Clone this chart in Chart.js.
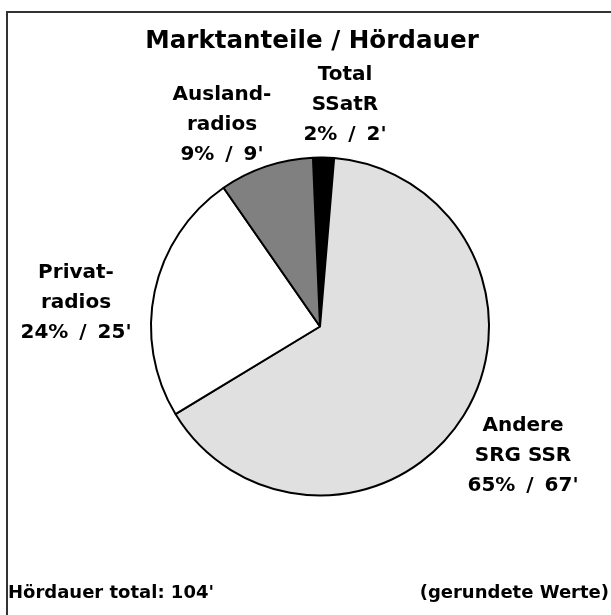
<!DOCTYPE html>
<html>
<head>
<meta charset="utf-8">
<script src="https://cdn.jsdelivr.net/npm/chart.js@4/dist/chart.umd.min.js"></script>
<style>
  html, body { margin: 0; padding: 0; background: #fff; }
  #wrap { position: relative; width: 611px; height: 615px; }
</style>
</head>
<body>
<div id="wrap"><canvas id="c" width="611" height="615"></canvas></div>
<script>
// Data (clockwise from top)
const categories = ['Total SSatR', 'Andere SRG SSR', 'Privatradios', 'Auslandradios'];
const shares = [2, 65, 24, 9];          // Marktanteile in %
const minutes = [2, 67, 25, 9];         // Hördauer in Minuten
const labelLines = [
  ['Total', 'SSatR'],
  ['Andere', 'SRG SSR'],
  ['Privat-', 'radios'],
  ['Ausland-', 'radios']
];
const titleText = 'Marktanteile / Hördauer';
const footLeft = "Hördauer total: 104'";
const footRight = '(gerundete Werte)';

const colors = ['#000000', '#e0e0e0', '#ffffff', '#808080'];
const FONT = '"DejaVu Sans", sans-serif';

// label centre positions (text placement, px)
const labelPos = [
  {x: 345, bl: 80},
  {x: 523, bl: 431},
  {x: 76,  bl: 278},
  {x: 222, bl: 100}
];

const decor = {
  id: 'decor',
  beforeDraw(chart) {
    const ctx = chart.ctx;
    ctx.save();
    ctx.fillStyle = '#fff';
    ctx.fillRect(0, 0, chart.width, chart.height);
    ctx.strokeStyle = '#333';
    ctx.lineWidth = 2;
    ctx.beginPath();
    ctx.moveTo(7, chart.height + 5);
    ctx.lineTo(7, 12);
    ctx.lineTo(chart.width + 5, 12);
    ctx.stroke();
    ctx.restore();
  },
  afterDraw(chart) {
    const ctx = chart.ctx;
    ctx.save();
    ctx.fillStyle = '#000';
    ctx.textBaseline = 'alphabetic';
    ctx.textAlign = 'center';
    ctx.font = 'bold 24.6px ' + FONT;
    ctx.fillText(titleText, 312, 48);
    ctx.font = 'bold 20px ' + FONT;
    categories.forEach((c, i) => {
      const lines = labelLines[i].concat([shares[i] + '% / ' + minutes[i] + "'"]);
      lines.forEach((t, j) => {
        ctx.wordSpacing = (j === 2) ? '4px' : '0px';
        ctx.fillText(t, labelPos[i].x, labelPos[i].bl + j * 30);
      });
    });
    ctx.wordSpacing = '0px';
    ctx.font = 'bold 18px ' + FONT;
    ctx.textAlign = 'left';
    ctx.fillText(footLeft, 8, 598);
    ctx.textAlign = 'right';
    ctx.fillText(footRight, 609, 598);
    ctx.restore();
  }
};

new Chart(document.getElementById('c'), {
  type: 'pie',
  data: {
    labels: categories,
    datasets: [{
      data: shares,
      backgroundColor: colors,
      borderColor: '#000',
      borderWidth: 2
    }]
  },
  options: {
    responsive: false,
    animation: false,
    rotation: -2.4,
    radius: 169,
    layout: { padding: { left: 29, right: 0, top: 38, bottom: 0 } },
    plugins: {
      legend: { display: false },
      tooltip: { enabled: false },
      title: { display: false }
    }
  },
  plugins: [decor]
});
</script>
</body>
</html>
